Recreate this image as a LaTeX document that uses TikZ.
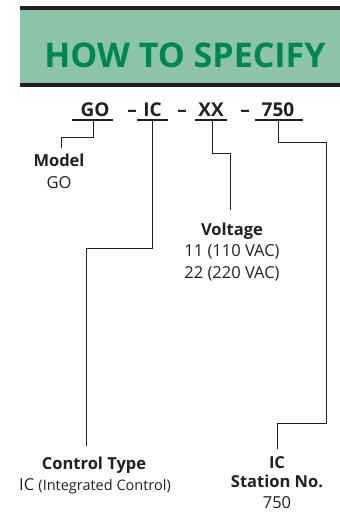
\documentclass[tikz,border=0pt]{standalone}
\usepackage{fontspec}
\setmainfont{Open Sans}
\definecolor{hdrbg}{HTML}{8DC3A9}
\definecolor{hdrfg}{HTML}{008751}
\definecolor{ink}{HTML}{231F20}
\begin{document}
\begin{tikzpicture}[x=1pt,y=-1pt,
  conn/.style={draw=ink,line width=0.9pt},
  uline/.style={draw=ink,line width=2pt},
  code/.style={font=\fontsize{19}{19}\selectfont\bfseries,text=ink,inner sep=0pt,anchor=base},
  lbl/.style={font=\fontsize{16.5}{16}\selectfont,text=ink,inner sep=0pt,anchor=base}]
\useasboundingbox (0,0) rectangle (340,515);
% header
\fill[ink] (20,6) rectangle (340,10);
\fill[hdrbg] (20,10) rectangle (340,83);
\fill[ink] (20,83) rectangle (340,87);
\node[font=\fontsize{34}{34}\selectfont\bfseries,text=hdrfg,anchor=base,inner sep=0pt] (title) at (185,67) {HOW TO SPECIFY};
% code line
\node[code] (go) at (95,116) {GO};
\node[code] (d1) at (132,116) {–};
\node[code] (ic) at (152.5,116) {IC};
\node[code] (d2) at (182,116) {–};
\node[code] (xx) at (211,116) {XX};
\node[code] (d3) at (245,116) {–};
\node[code] (sn) at (278,116) {750};
% underlines
\coordinate (ugoL) at (72,120); \coordinate (ugoR) at (113,120);
\coordinate (uicL) at (137,120); \coordinate (uicR) at (168,120);
\coordinate (uxxL) at (195,120); \coordinate (uxxR) at (227,120);
\coordinate (usnL) at (255,120); \coordinate (usnR) at (303,120);
\draw[uline] (ugoL) -- (ugoR);
\draw[uline] (uicL) -- (uicR);
\draw[uline] (uxxL) -- (uxxR);
\draw[uline] (usnL) -- (usnR);
% labels
\node[lbl] (model) at (59,166) {\bfseries Model};
\node[lbl] (modelv) at (59,188) {GO};
\node[lbl] (volt) at (232,235) {\bfseries Voltage};
\node[lbl] (volt1) at (232,256.5) {11 (110 VAC)};
\node[lbl] (volt2) at (232,278) {22 (220 VAC)};
\node[lbl] (ctl) at (94,469) {\bfseries Control Type};
\node[lbl] (ctlv) at (95,490) {IC {\fontsize{14.5}{14}\selectfont(Integrated Control)}};
\node[lbl] (st1) at (277,468) {\bfseries IC};
\node[lbl] (st2) at (277,487.5) {\bfseries Station No.};
\node[lbl] (st3) at (277,508) {750};
% connectors
\coordinate (gA) at (93,121); \coordinate (gB) at (93,137); \coordinate (gC) at (61,137); \coordinate (gD) at (61,148);
\draw[conn] (gA) -- (gB) -- (gC) -- (gD);
\coordinate (iA) at (152,121); \coordinate (iB) at (152,248); \coordinate (iC) at (86,248); \coordinate (iD) at (86,446);
\draw[conn] (iA) -- (iB) -- (iC) -- (iD);
\coordinate (xA) at (212,121); \coordinate (xB) at (212,153); \coordinate (xC) at (230,153); \coordinate (xD) at (230,210);
\draw[conn] (xA) -- (xB) -- (xC) -- (xD);
\coordinate (sA) at (278,121); \coordinate (sB) at (278,142); \coordinate (sC) at (326,142); \coordinate (sD) at (326,423); \coordinate (sE) at (277,423); \coordinate (sF) at (277,449);
\draw[conn] (sA) -- (sB) -- (sC) -- (sD) -- (sE) -- (sF);
\end{tikzpicture}
\end{document}
